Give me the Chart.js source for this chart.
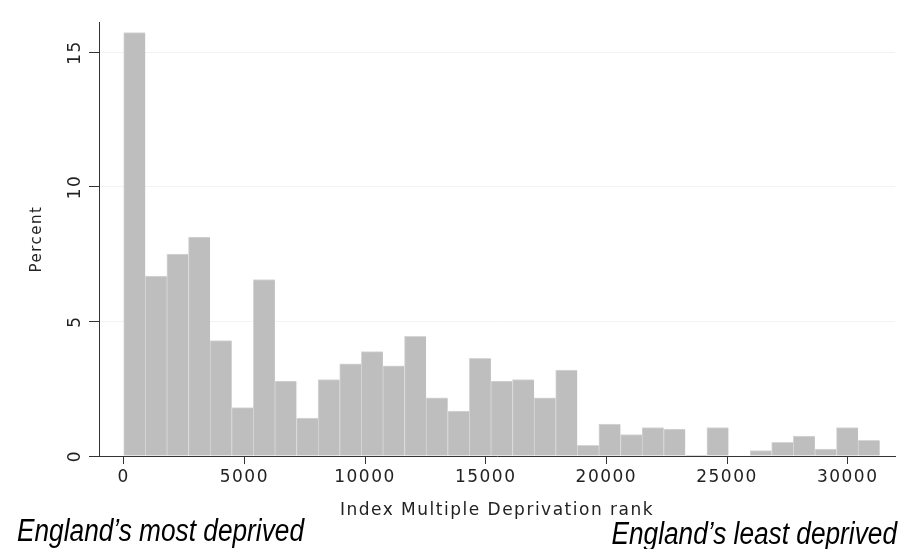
<!DOCTYPE html>
<html>
<head>
<meta charset="utf-8">
<script src="https://cdn.jsdelivr.net/npm/chart.js@4.4.1/dist/chart.umd.min.js"></script>
<style>
html,body{margin:0;padding:0;background:#ffffff;}
#wrap{width:910px;height:549px;position:relative;}
</style>
</head>
<body>
<div id="wrap"><canvas id="c" width="910" height="549"></canvas></div>
<script>
// ---- data ----
const binWidth = 895; // width of each histogram bin (IMD rank units)
const percent = [15.74, 6.69, 7.50, 8.14, 4.29, 1.80, 6.56, 2.78, 1.41, 2.84,
                 3.43, 3.88, 3.35, 4.45, 2.16, 1.67, 3.63, 2.78, 2.84, 2.16,
                 3.19, 0.40, 1.19, 0.80, 1.06, 1.00, 0.03, 1.06, 0.00, 0.20,
                 0.51, 0.74, 0.26, 1.06, 0.58];
const xTicks = [0, 5000, 10000, 15000, 20000, 25000, 30000];
const yTicks = [0, 5, 10, 15];
const xTitle = 'Index Multiple Deprivation rank';
const yTitle = 'Percent';
const leftNote = 'England\u2019s most deprived';
const rightNote = 'England\u2019s least deprived';

// ---- chart ----
const points = percent.map((p, i) => ({ x: i * binWidth + binWidth / 2, y: p }));
const SPACING = '1.5px';
const axisFont = { family: '"DejaVu Sans", sans-serif', size: 17 };

const spacingPlugin = {
  id: 'spacing',
  beforeUpdate(c) { c.ctx.letterSpacing = SPACING; },
  beforeLayout(c) { c.ctx.letterSpacing = SPACING; },
  beforeDraw(c) { c.ctx.letterSpacing = SPACING; },
  afterDraw(c) {
    const ctx = c.ctx;
    ctx.save();
    ctx.letterSpacing = '0px';
    const fam = '"Liberation Sans Narrow", "Liberation Sans", Arial, sans-serif';
    ctx.font = 'italic 31px ' + fam;
    const w = ctx.measureText(leftNote).width;
    const sx = Math.min(1, 287 / w);
    ctx.fillStyle = '#000';
    ctx.textBaseline = 'alphabetic';
    ctx.save();
    ctx.translate(17, 541);
    ctx.scale(sx, 1);
    ctx.textAlign = 'left';
    ctx.fillText(leftNote, 0, 0);
    ctx.restore();
    ctx.save();
    ctx.translate(897, 544);
    ctx.scale(sx, 1);
    ctx.textAlign = 'right';
    ctx.fillText(rightNote, 0, 0);
    ctx.restore();
    ctx.restore();
  }
};

new Chart(document.getElementById('c'), {
  type: 'bar',
  data: {
    datasets: [{
      data: points,
      backgroundColor: '#bebebe',
      borderColor: '#d6d6d6',
      borderWidth: { top: 1, left: 1, right: 0, bottom: 0 },
      borderSkipped: false,
      barPercentage: 1.0,
      categoryPercentage: 1.0
    }]
  },
  options: {
    responsive: false,
    devicePixelRatio: 1,
    animation: false,
    layout: { padding: { left: 0, right: 15, top: 22, bottom: 28 } },
    plugins: { legend: { display: false }, tooltip: { enabled: false } },
    scales: {
      x: {
        type: 'linear',
        offset: false,
        min: -1023,
        max: 31960,
        afterBuildTicks: (s) => { s.ticks = xTicks.map(v => ({ value: v })); },
        afterFit: (s) => { s.height = 65; },
        grid: { offset: false, drawOnChartArea: false, drawTicks: true, tickLength: 8, tickColor: '#333', color: '#333' },
        border: { display: true, color: '#333', width: 1 },
        ticks: { font: axisFont, color: '#222', padding: 3, maxRotation: 0, minRotation: 0, callback: (v) => String(v) },
        title: { display: true, text: xTitle, font: axisFont, color: '#222', padding: { top: 0, bottom: 0 } }
      },
      y: {
        type: 'linear',
        min: 0,
        max: 16.13,
        afterBuildTicks: (s) => { s.ticks = yTicks.map(v => ({ value: v })); },
        afterFit: (s) => { s.width = 99; },
        grid: { color: '#f3f3f3', tickColor: '#333', tickLength: 10, drawTicks: true },
        border: { display: true, color: '#333', width: 1 },
        ticks: { font: axisFont, color: '#222', padding: 1, minRotation: 90, maxRotation: 90, crossAlign: 'center', callback: (v) => String(v) },
        title: { display: true, text: yTitle, font: { family: '"DejaVu Sans", sans-serif', size: 15 }, color: '#222', padding: { top: 28, bottom: 0 } }
      }
    }
  },
  plugins: [spacingPlugin]
});
</script>
</body>
</html>
